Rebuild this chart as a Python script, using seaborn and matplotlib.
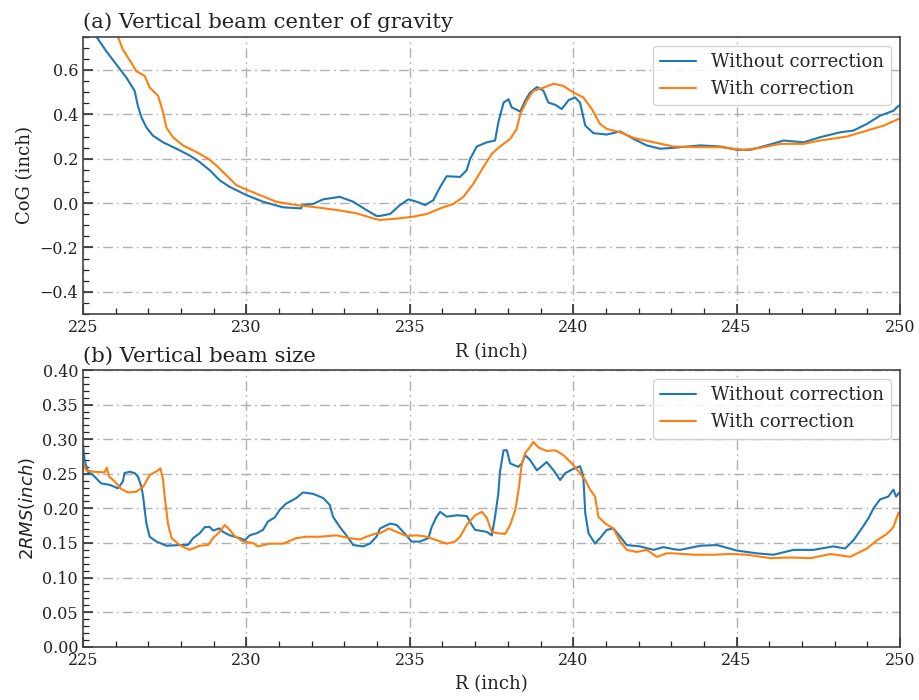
import numpy as np
import pandas as pd
import matplotlib
matplotlib.use("Agg")
import matplotlib.pyplot as plt
import seaborn as sns
from matplotlib.ticker import MultipleLocator

# ---- (a) vertical beam centre of gravity ----
cog_without_r = [225.41, 225.71, 226.02, 226.33, 226.58, 226.68, 226.79, 226.94, 227.14, 227.45,
                 227.86, 228.26, 228.57, 228.88, 229.18, 229.49, 230.00, 230.51, 231.12, 231.68,
                 231.70, 232.04, 232.35, 232.86, 233.27, 233.67, 233.98, 234.09, 234.40, 234.70,
                 234.96, 235.21, 235.47, 235.72, 235.93, 236.13, 236.54, 236.74, 236.85, 237.05,
                 237.36, 237.61, 237.71, 237.87, 238.02, 238.12, 238.38, 238.53, 238.68, 238.89,
                 239.09, 239.24, 239.45, 239.65, 239.86, 240.06, 240.21, 240.37, 240.62, 241.03,
                 241.44, 241.85, 242.25, 242.66, 243.07, 243.27, 243.89, 244.50, 245.01, 245.42,
                 245.93, 246.44, 247.05, 247.56, 248.17, 248.58, 248.99, 249.39, 249.80, 249.95,
                 250.00]
cog_without = [0.750, 0.685, 0.625, 0.565, 0.506, 0.438, 0.386, 0.341, 0.304, 0.274,
               0.245, 0.215, 0.185, 0.148, 0.103, 0.073, 0.036, 0.006, -0.019, -0.024,
               -0.010, -0.004, 0.017, 0.028, 0.006, -0.031, -0.058, -0.058, -0.049, -0.009,
               0.017, 0.006, -0.009, 0.013, 0.073, 0.121, 0.118, 0.148, 0.200, 0.255,
               0.274, 0.282, 0.364, 0.453, 0.468, 0.431, 0.413, 0.461, 0.498, 0.523,
               0.506, 0.453, 0.443, 0.424, 0.464, 0.476, 0.453, 0.349, 0.315, 0.309,
               0.323, 0.289, 0.260, 0.245, 0.249, 0.252, 0.260, 0.255, 0.240, 0.240,
               0.260, 0.282, 0.274, 0.297, 0.319, 0.327, 0.357, 0.394, 0.416, 0.438,
               0.440]

cog_with_r = [226.07, 226.22, 226.48, 226.63, 226.89, 227.04, 227.30, 227.45, 227.55, 227.75,
              228.06, 228.47, 228.83, 229.08, 229.39, 229.69, 230.00, 230.41, 230.92, 231.53,
              232.14, 232.75, 233.37, 233.88, 234.09, 234.60, 235.11, 235.52, 235.93, 236.33,
              236.64, 236.95, 237.25, 237.51, 237.76, 238.07, 238.27, 238.38, 238.58, 238.78,
              239.09, 239.40, 239.70, 240.01, 240.31, 240.57, 240.82, 241.03, 241.44, 241.85,
              242.46, 243.07, 243.89, 244.50, 245.21, 245.72, 246.33, 247.05, 247.56, 248.38,
              248.99, 249.50, 249.95, 250.00]
cog_with = [0.750, 0.692, 0.632, 0.595, 0.573, 0.521, 0.483, 0.409, 0.341, 0.297,
            0.260, 0.230, 0.200, 0.170, 0.125, 0.081, 0.061, 0.036, 0.006, -0.009,
            -0.019, -0.031, -0.046, -0.069, -0.076, -0.070, -0.061, -0.049, -0.024, -0.004,
            0.028, 0.088, 0.162, 0.222, 0.255, 0.289, 0.334, 0.401, 0.461, 0.506,
            0.520, 0.538, 0.528, 0.498, 0.476, 0.424, 0.357, 0.334, 0.319, 0.294,
            0.274, 0.255, 0.252, 0.252, 0.240, 0.249, 0.267, 0.267, 0.282, 0.300,
            0.327, 0.349, 0.379, 0.380]

# ---- (b) vertical beam size (2 RMS) ----
size_without_r = [225.00, 225.05, 225.15, 225.31, 225.56, 225.82, 226.07, 226.22, 226.27, 226.43,
                  226.58, 226.68, 226.79, 226.84, 226.94, 227.04, 227.25, 227.55, 227.96, 228.21,
                  228.37, 228.57, 228.73, 228.88, 228.98, 229.18, 229.29, 229.49, 229.80, 229.95,
                  230.10, 230.31, 230.51, 230.66, 230.87, 231.02, 231.22, 231.53, 231.73, 232.04,
                  232.35, 232.55, 232.65, 232.86, 233.06, 233.27, 233.57, 233.78, 233.98, 234.09,
                  234.40, 234.60, 234.80, 235.06, 235.31, 235.57, 235.67, 235.82, 235.93, 236.13,
                  236.44, 236.74, 236.90, 237.00, 237.36, 237.51, 237.61, 237.71, 237.76, 237.87,
                  237.97, 238.07, 238.32, 238.43, 238.53, 238.68, 238.89, 239.09, 239.19, 239.40,
                  239.60, 239.76, 239.96, 240.21, 240.31, 240.37, 240.47, 240.67, 240.82, 241.03,
                  241.23, 241.44, 241.64, 242.05, 242.46, 242.76, 243.07, 243.27, 243.89, 244.40,
                  245.01, 245.62, 246.13, 246.74, 247.35, 247.96, 248.32, 248.58, 248.83, 249.04,
                  249.19, 249.39, 249.64, 249.80, 249.88, 250.00]
size_without = [0.292, 0.270, 0.253, 0.248, 0.236, 0.234, 0.229, 0.239, 0.251, 0.253,
                0.251, 0.246, 0.231, 0.217, 0.178, 0.159, 0.152, 0.146, 0.147, 0.147,
                0.157, 0.164, 0.173, 0.173, 0.168, 0.171, 0.166, 0.161, 0.157, 0.154,
                0.161, 0.164, 0.169, 0.181, 0.187, 0.198, 0.207, 0.215, 0.223, 0.221,
                0.215, 0.205, 0.188, 0.173, 0.161, 0.147, 0.145, 0.149, 0.159, 0.171,
                0.178, 0.176, 0.166, 0.152, 0.152, 0.157, 0.173, 0.188, 0.195, 0.188,
                0.190, 0.189, 0.176, 0.169, 0.166, 0.161, 0.188, 0.222, 0.253, 0.284,
                0.284, 0.265, 0.260, 0.265, 0.277, 0.270, 0.255, 0.263, 0.267, 0.255,
                0.241, 0.251, 0.256, 0.261, 0.246, 0.193, 0.164, 0.149, 0.157, 0.169,
                0.171, 0.159, 0.147, 0.145, 0.140, 0.144, 0.141, 0.140, 0.146, 0.147,
                0.139, 0.135, 0.133, 0.140, 0.140, 0.145, 0.142, 0.154, 0.171, 0.186,
                0.200, 0.213, 0.217, 0.227, 0.217, 0.224]

size_with_r = [225.00, 225.10, 225.31, 225.66, 225.73, 225.80, 225.97, 226.17, 226.38, 226.63,
               226.84, 227.04, 227.30, 227.37, 227.45, 227.50, 227.60, 227.71, 227.96, 228.26,
               228.57, 228.83, 228.98, 229.18, 229.34, 229.49, 229.64, 229.90, 230.20, 230.35,
               230.71, 231.12, 231.53, 231.83, 232.24, 232.75, 233.16, 233.47, 233.67, 233.98,
               234.09, 234.35, 234.60, 234.90, 235.21, 235.52, 235.82, 236.13, 236.38, 236.54,
               236.74, 237.00, 237.21, 237.36, 237.51, 237.71, 237.92, 238.07, 238.23, 238.33,
               238.43, 238.53, 238.68, 238.78, 238.94, 239.19, 239.45, 239.70, 239.96, 240.17,
               240.37, 240.52, 240.67, 240.77, 240.98, 241.23, 241.44, 241.64, 241.95, 242.25,
               242.56, 242.86, 243.07, 243.68, 244.29, 244.80, 245.32, 246.03, 246.64, 247.26,
               247.87, 248.48, 248.99, 249.30, 249.60, 249.80, 249.95, 250.00]
size_with = [0.265, 0.255, 0.253, 0.252, 0.259, 0.246, 0.239, 0.228, 0.223, 0.224,
             0.231, 0.248, 0.255, 0.258, 0.241, 0.217, 0.178, 0.157, 0.147, 0.140,
             0.146, 0.147, 0.157, 0.166, 0.176, 0.169, 0.160, 0.152, 0.150, 0.145,
             0.149, 0.149, 0.157, 0.159, 0.159, 0.161, 0.157, 0.155, 0.159, 0.164,
             0.164, 0.171, 0.166, 0.160, 0.161, 0.159, 0.154, 0.149, 0.152, 0.159,
             0.176, 0.190, 0.195, 0.186, 0.166, 0.164, 0.163, 0.176, 0.198, 0.227,
             0.265, 0.280, 0.289, 0.296, 0.288, 0.283, 0.284, 0.277, 0.265, 0.253,
             0.241, 0.227, 0.217, 0.188, 0.178, 0.171, 0.152, 0.140, 0.137, 0.140,
             0.130, 0.135, 0.135, 0.133, 0.133, 0.134, 0.133, 0.128, 0.129, 0.128,
             0.134, 0.130, 0.142, 0.154, 0.163, 0.173, 0.193, 0.195]

series_labels = ["Without correction", "With correction"]
colors = ["#1f77b4", "#ff7f0e"]


def long_frame(r_a, v_a, r_b, v_b, col):
    a = pd.DataFrame({"R": r_a, col: v_a, "case": series_labels[0]})
    b = pd.DataFrame({"R": r_b, col: v_b, "case": series_labels[1]})
    return pd.concat([a, b], ignore_index=True)


cog_df = long_frame(cog_without_r, cog_without, cog_with_r, cog_with, "CoG")
size_df = long_frame(size_without_r, size_without, size_with_r, size_with, "size")

sns.set_style("white")
plt.rcParams["font.family"] = ["DejaVu Serif"]
plt.rcParams["mathtext.fontset"] = "dejavusans"

fig = plt.figure(figsize=(9.19, 7.0), dpi=100)
ax1 = fig.add_axes([0.0903, 0.5514, 0.889, 0.3962])
ax2 = fig.add_axes([0.0903, 0.0761, 0.889, 0.3953])

grid_kw = dict(color="#b0b0b0", linewidth=1.0, linestyle=(0, (7, 3, 1.2, 3)))

for ax, df, col in [(ax1, cog_df, "CoG"), (ax2, size_df, "size")]:
    sns.lineplot(data=df, x="R", y=col, hue="case", hue_order=series_labels,
                 palette=colors, estimator=None, sort=False, linewidth=1.5, ax=ax)
    ax.set_xlim(225, 250)
    ax.xaxis.set_major_locator(MultipleLocator(5))
    ax.xaxis.set_minor_locator(MultipleLocator(1))
    ax.grid(True, which="major", **grid_kw)
    ax.set_axisbelow(True)
    ax.tick_params(which="both", direction="in", left=True, bottom=True,
                   top=False, right=False, labelsize=11.5, colors="#222222")
    ax.tick_params(which="major", length=7, width=1.1)
    ax.tick_params(which="minor", length=4, width=0.9)
    for s in ax.spines.values():
        s.set_color("#444444")
        s.set_linewidth(1.2)
    ax.set_xlabel("R (inch)", fontsize=13, color="#222222", labelpad=5)
    leg = ax.legend(loc="upper right", fontsize=13, frameon=True, fancybox=True,
                    framealpha=0.85, edgecolor="#cccccc", handlelength=2.0,
                    borderaxespad=0.5)
    leg.get_frame().set_linewidth(1.0)

ax1.set_ylim(-0.5, 0.75)
ax1.yaxis.set_major_locator(MultipleLocator(0.2))
ax1.yaxis.set_minor_locator(MultipleLocator(0.05))
ax1.set_ylabel("CoG (inch)", fontsize=13, color="#222222")
ax1.set_title("(a) Vertical beam center of gravity", loc="left", fontsize=15.3,
              color="#222222", pad=6)

ax2.set_ylim(0, 0.4)
ax2.yaxis.set_major_locator(MultipleLocator(0.05))
ax2.yaxis.set_minor_locator(MultipleLocator(0.01))
ax2.yaxis.set_major_formatter(matplotlib.ticker.FormatStrFormatter("%.2f"))
ax2.set_ylabel("$2RMS (inch)$", fontsize=13, color="#222222")
ax2.set_title("(b) Vertical beam size", loc="left", fontsize=15.3,
              color="#222222", pad=6)

fig.savefig("out.png", dpi=100)
